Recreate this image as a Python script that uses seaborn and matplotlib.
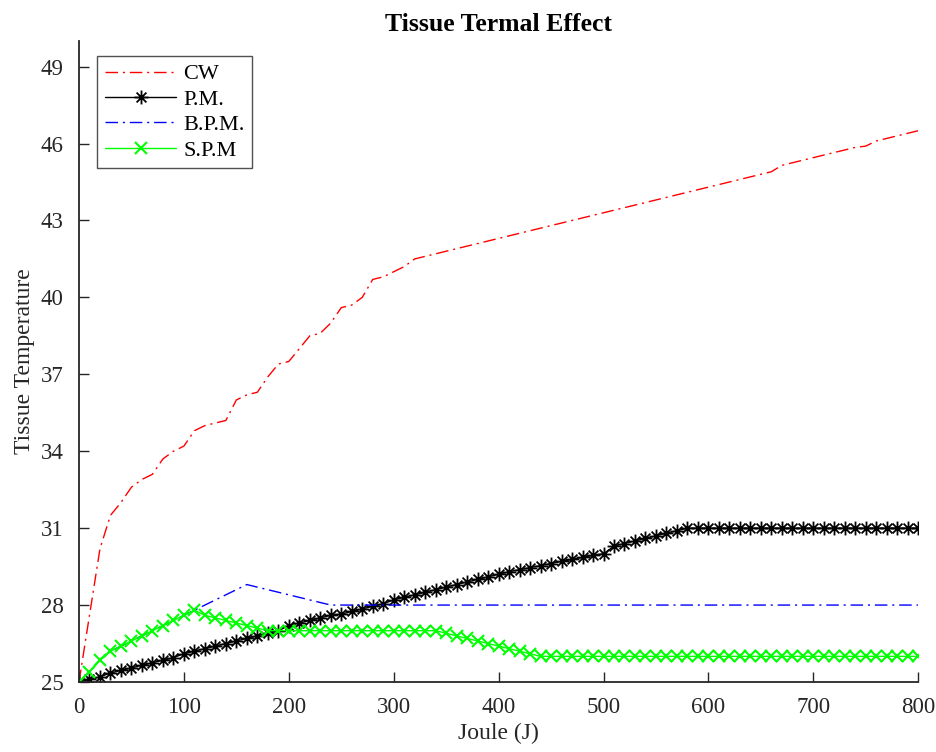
import numpy as np
import pandas as pd
import matplotlib
matplotlib.use("Agg")
import matplotlib.pyplot as plt
from matplotlib.path import Path
import seaborn as sns

joule = list(range(0, 810, 10))

cw = [25.0, 27.6, 30.2, 31.5, 32.0, 32.6, 32.9, 33.1, 33.7, 34.0,
      34.2, 34.8, 35.0, 35.1, 35.2, 36.0, 36.2, 36.3, 36.9, 37.4,
      37.5, 38.0, 38.5, 38.6, 39.0, 39.6, 39.7, 40.0, 40.7, 40.8,
      41.0, 41.2, 41.5, 41.6, 41.7, 41.8, 41.9, 42.0, 42.1, 42.2,
      42.3, 42.4, 42.5, 42.6, 42.7, 42.8, 42.9, 43.0, 43.1, 43.2,
      43.3, 43.4, 43.5, 43.6, 43.7, 43.8, 43.9, 44.0, 44.1, 44.2,
      44.3, 44.4, 44.5, 44.6, 44.7, 44.8, 44.9, 45.15, 45.25, 45.35,
      45.45, 45.55, 45.65, 45.75, 45.85, 45.9, 46.1, 46.2, 46.3, 46.4,
      46.5]

pm = [25.0, 25.1, 25.2, 25.35, 25.45, 25.55, 25.65, 25.75, 25.85, 25.95,
      26.1, 26.2, 26.3, 26.4, 26.5, 26.6, 26.7, 26.8, 26.9, 27.0,
      27.2, 27.3, 27.4, 27.5, 27.6, 27.65, 27.75, 27.85, 27.95, 28.05,
      28.2, 28.3, 28.4, 28.5, 28.6, 28.7, 28.8, 28.9, 29.0, 29.1,
      29.2, 29.3, 29.38, 29.46, 29.54, 29.62, 29.7, 29.78, 29.86, 29.94,
      30.0, 30.3, 30.4, 30.5, 30.6, 30.7, 30.8, 30.9, 31.0, 31.0,
      31.0, 31.0, 31.0, 31.0, 31.0, 31.0, 31.0, 31.0, 31.0, 31.0,
      31.0, 31.0, 31.0, 31.0, 31.0, 31.0, 31.0, 31.0, 31.0, 31.0,
      31.0]

bpm = [25.0, 25.4, 25.85, 26.2, 26.4, 26.6, 26.8, 27.0, 27.2, 27.4,
       27.6, 27.8, 28.0, 28.2, 28.4, 28.6, 28.8, 28.7, 28.6, 28.5,
       28.4, 28.3, 28.2, 28.1, 28.0, 28.0, 28.0, 28.0, 28.0, 28.0,
       28.0, 28.0, 28.0, 28.0, 28.0, 28.0, 28.0, 28.0, 28.0, 28.0,
       28.0, 28.0, 28.0, 28.0, 28.0, 28.0, 28.0, 28.0, 28.0, 28.0,
       28.0, 28.0, 28.0, 28.0, 28.0, 28.0, 28.0, 28.0, 28.0, 28.0,
       28.0, 28.0, 28.0, 28.0, 28.0, 28.0, 28.0, 28.0, 28.0, 28.0,
       28.0, 28.0, 28.0, 28.0, 28.0, 28.0, 28.0, 28.0, 28.0, 28.0,
       28.0]

spm = [25.0, 25.4, 25.85, 26.2, 26.4, 26.6, 26.8, 27.0, 27.2, 27.4,
       27.6, 27.8, 27.6, 27.5, 27.4, 27.3, 27.2, 27.1, 27.0, 27.0,
       27.0, 27.0, 27.0, 27.0, 27.0, 27.0, 27.0, 27.0, 27.0, 27.0,
       27.0, 27.0, 27.0, 27.0, 27.0, 26.9, 26.8, 26.7, 26.6, 26.5,
       26.4, 26.3, 26.2, 26.1, 26.0, 26.0, 26.0, 26.0, 26.0, 26.0,
       26.0, 26.0, 26.0, 26.0, 26.0, 26.0, 26.0, 26.0, 26.0, 26.0,
       26.0, 26.0, 26.0, 26.0, 26.0, 26.0, 26.0, 26.0, 26.0, 26.0,
       26.0, 26.0, 26.0, 26.0, 26.0, 26.0, 26.0, 26.0, 26.0, 26.0,
       26.0]

labels = ["CW", "P.M.", "B.P.M.", "S.P.M"]
x_ticks = [0, 100, 200, 300, 400, 500, 600, 700, 800]
y_ticks = [25, 28, 31, 34, 37, 40, 43, 46, 49]

sns.set_theme(style="white")
plt.rcParams["font.family"] = ["Liberation Serif", "DejaVu Serif"]
plt.rcParams["legend.numpoints"] = 1

# MATLAB-like asterisk marker (+ and x combined)
d = 0.7071
ast_verts = [(-1, 0), (1, 0), (0, -1), (0, 1), (-d, -d), (d, d), (-d, d), (d, -d)]
ast_codes = [Path.MOVETO, Path.LINETO] * 4
asterisk = Path(ast_verts, ast_codes)

fig = plt.figure(figsize=(9.36, 7.52), dpi=100)
ax = fig.add_axes([0.0844, 0.0931, 0.8966, 0.8524])

dashdot = (0, (9, 3.5, 1.5, 3.5))

sns.lineplot(x=joule, y=cw, ax=ax, color="#ff0000", linestyle=dashdot,
             linewidth=1.0, label=labels[0], sort=False)
sns.lineplot(x=joule, y=pm, ax=ax, color="black", linestyle="-",
             linewidth=1.0, marker=asterisk, markersize=10,
             markeredgewidth=1.3, markeredgecolor="black",
             markerfacecolor="none", label=labels[1], sort=False)
sns.lineplot(x=joule, y=bpm, ax=ax, color="#0000ff", linestyle=dashdot,
             linewidth=1.0, label=labels[2], sort=False)
sns.lineplot(x=joule, y=spm, ax=ax, color="#00ff00", linestyle="-",
             linewidth=1.0, marker="x", markersize=8.5,
             markeredgewidth=1.5, markeredgecolor="#00ff00",
             label=labels[3], sort=False)

ax.set_xlim(0, 800)
ax.set_ylim(25, 50)
ax.set_xticks(x_ticks)
ax.set_yticks(y_ticks)

axcol = "#262626"
for side in ["top", "right"]:
    ax.spines[side].set_visible(False)
for side in ["left", "bottom"]:
    ax.spines[side].set_color(axcol)
    ax.spines[side].set_linewidth(1.3)
ax.tick_params(direction="in", length=7, width=1.0, colors=axcol,
               labelsize=16.5, left=True, bottom=True)
ax.tick_params(axis="x", pad=11)
ax.tick_params(axis="y", pad=11)

ax.set_title("Tissue Termal Effect", fontsize=18.5, fontweight="bold",
             color="black", pad=7)
ax.set_xlabel("Joule (J)", fontsize=17, color=axcol, labelpad=3)
ax.set_ylabel("Tissue Temperature", fontsize=17, color=axcol, labelpad=4)

leg = ax.legend(loc="upper left", bbox_to_anchor=(0.022, 0.9766),
                fontsize=16, frameon=True, fancybox=False,
                handlelength=3.2, handletextpad=0.3, borderpad=0.35,
                labelspacing=0.22, borderaxespad=0)
leg.get_frame().set_edgecolor("#262626")
leg.get_frame().set_linewidth(1.0)
for t in leg.get_texts():
    t.set_color("black")

fig.savefig("out.png", dpi=100)
